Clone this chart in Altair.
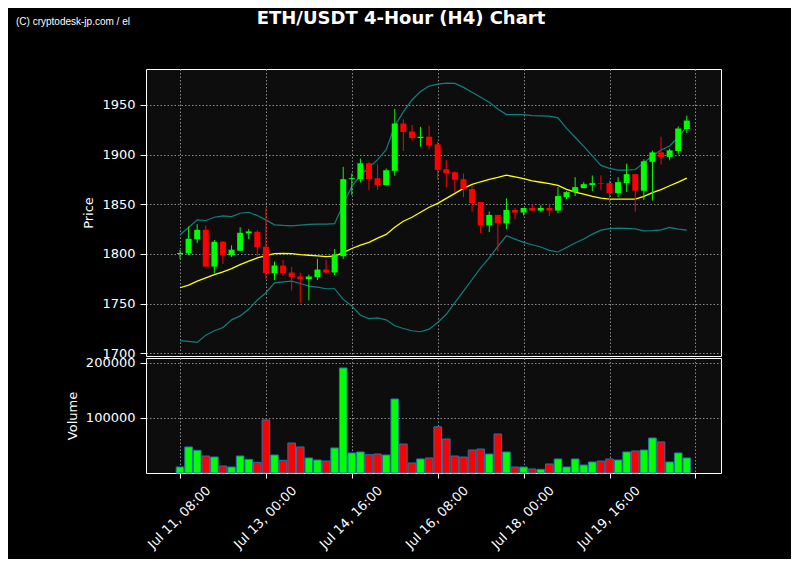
import altair as alt
import pandas as pd

title_text = "ETH/USDT 4-Hour (H4) Chart"
watermark_text = "(C) cryptodesk-jp.com / el"

tick_index = [0, 10, 20, 30, 40, 50, 60]
tick_labels = ["Jul 11, 08:00", "Jul 13, 00:00", "Jul 14, 16:00", "Jul 16, 08:00",
               "Jul 18, 00:00", "Jul 19, 16:00", ""]
price_ticks = [1700, 1750, 1800, 1850, 1900, 1950]
volume_ticks = [100000, 200000]

opens = [1800, 1800.7, 1814.7, 1824.3, 1787.3, 1812.3, 1798.7, 1803.3, 1820.7, 1822.3,
         1807.3, 1780.7, 1788.3, 1781.3, 1777.3, 1774.7, 1776.7, 1784.3, 1781.3, 1797.7,
         1875.3, 1875.3, 1891.3, 1876.3, 1869.3, 1883.7, 1931.3, 1923.3, 1916.7, 1918,
         1910.3, 1885.3, 1882.3, 1875.3, 1865.3, 1852.3, 1828.7, 1839.3, 1830.7, 1844.3,
         1841.7, 1846.3, 1843.7, 1846.3, 1843.7, 1857.3, 1862.3, 1866.3, 1869.3, 1871.3,
         1871.3, 1861.3, 1871.3, 1880.3, 1863.7, 1892.7, 1902.3, 1897.7, 1903.7, 1925.7]
closes = [1801, 1815.3, 1824.3, 1787.3, 1812.3, 1798.7, 1804.3, 1821.3, 1822.7, 1806.7,
          1780.7, 1788.3, 1780.7, 1776.7, 1774.7, 1777.3, 1784.3, 1781.3, 1799.3, 1875.3,
          1876.3, 1891.3, 1875.3, 1869.3, 1884.3, 1931.3, 1922.7, 1916.7, 1918, 1909.3,
          1884.7, 1881.3, 1874.7, 1865.3, 1851.3, 1828.7, 1839.3, 1831, 1844.3, 1841.7,
          1846.3, 1843.7, 1846.3, 1843.7, 1858.3, 1862.3, 1867.3, 1870.3, 1871.3, 1870.7,
          1861.3, 1872.3, 1880.3, 1863.7, 1893.3, 1902.3, 1897.7, 1904.3, 1926.3, 1934.3]
highs = [1804, 1827.7, 1830, 1828.7, 1814, 1813, 1808.7, 1827, 1825, 1824,
         1846, 1792.3, 1794, 1787, 1781, 1779.3, 1795, 1794.3, 1805, 1887.7,
         1881, 1896, 1892.7, 1890.3, 1886, 1946, 1935.7, 1930, 1928, 1929,
         1913, 1894.3, 1883, 1881, 1868.7, 1852.3, 1842.7, 1839.3, 1856, 1846.3,
         1846.3, 1850, 1849, 1850.7, 1867.3, 1863.3, 1877.3, 1872.3, 1879, 1879,
         1874, 1877.3, 1891, 1880.3, 1895.3, 1904, 1918, 1906, 1928.3, 1939.3]
lows = [1795, 1799, 1811, 1787, 1780.7, 1790, 1797, 1803, 1815, 1797.7,
        1775, 1773.7, 1777.7, 1763.3, 1751, 1753.3, 1773.7, 1780, 1778.7, 1795,
        1859.3, 1872, 1864, 1864.7, 1869.3, 1878.7, 1903.7, 1914, 1908, 1905,
        1874.7, 1867, 1862, 1857, 1842.7, 1821, 1822, 1802.7, 1825, 1835,
        1838.7, 1843.7, 1842, 1838.3, 1841, 1855.3, 1858.3, 1866.3, 1863.3, 1864.3,
        1851.7, 1857.3, 1862.3, 1842.7, 1854.3, 1853.7, 1890, 1894.3, 1900, 1921.7]
volumes = [10900, 47300, 41200, 30900, 29100, 12700, 10900, 30900, 24800, 19400,
           96400, 32700, 23000, 54500, 47300, 27300, 23600, 21800, 45500, 190900,
           36400, 38200, 33300, 34500, 32700, 134500, 52700, 18200, 25500, 27300,
           84000, 61800, 30900, 29100, 41800, 43600, 34500, 70900, 38200, 10900,
           10900, 7300, 6700, 16400, 25500, 10900, 25500, 14500, 20000, 21800,
           25500, 23600, 38200, 40000, 41800, 63600, 56400, 20000, 36400, 27300]
sma = [1766, 1768.7, 1772.7, 1776, 1779.3, 1782, 1785.3, 1789.3, 1792.7, 1796,
       1798.3, 1800.3, 1800.7, 1800.3, 1799.3, 1798.7, 1798, 1797.3, 1797.8, 1801.3,
       1805.5, 1809, 1811.7, 1816, 1819.7, 1827, 1833, 1837, 1842, 1847,
       1851, 1856, 1861, 1866, 1870, 1872.7, 1875, 1877, 1879.3, 1877.7,
       1875.8, 1873.5, 1872.2, 1870.8, 1869, 1865, 1862.3, 1860.2, 1858, 1856.3,
       1855.3, 1855.2, 1855.2, 1855.3, 1858, 1861.7, 1864.7, 1868.7, 1872.3, 1876.4]
upper_band = [1819.3, 1826.7, 1834.3, 1833.7, 1837, 1838.3, 1837.7, 1841, 1842, 1838.7,
              1834.3, 1829.3, 1828.7, 1828.3, 1829, 1829.7, 1830, 1830, 1830.5, 1850,
              1868, 1879, 1887, 1895, 1905, 1929, 1943, 1955, 1963.5, 1969,
              1971, 1972, 1971.7, 1967.7, 1962.7, 1957.7, 1952.7, 1946, 1940.3, 1940.3,
              1940.3, 1939.3, 1939, 1938.7, 1937, 1926.5, 1917.5, 1908.3, 1898.7, 1889.2,
              1886.2, 1884.5, 1884.5, 1885, 1891.7, 1898.8, 1904.7, 1908.7, 1917.5, 1928.3]
lower_band = [1712.7, 1712, 1711, 1718.3, 1722.7, 1726, 1733.7, 1737.7, 1744.3, 1753.7,
              1761, 1771, 1772, 1772.7, 1770.3, 1767.7, 1766.7, 1765, 1765, 1754.3,
              1747.7, 1738.3, 1735, 1735.7, 1733.7, 1727.7, 1725, 1722.7, 1721.7, 1724.3,
              1731, 1739.3, 1751, 1762.7, 1774.3, 1786, 1796, 1807.7, 1818.3, 1815,
              1811.7, 1809.3, 1807, 1803.7, 1802, 1806.5, 1811, 1815, 1820, 1824,
              1825.5, 1826, 1825.7, 1825.3, 1823.3, 1823.5, 1824.2, 1826.8, 1825, 1824]

UP = "#00ff00"
DOWN = "#ff0000"

n = len(opens)
df = pd.DataFrame({
    "i": list(range(n)),
    "open": opens, "close": closes, "high": highs, "low": lows,
    "volume": volumes, "sma": sma, "upper": upper_band, "lower": lower_band,
})
df["col"] = [UP if c >= o else DOWN for o, c in zip(opens, closes)]

xscale = alt.Scale(domain=[-3.96, 62.98], nice=False, zero=False, padding=0)
yscale = alt.Scale(domain=[1697.3, 1986.2], nice=False, zero=False)
label_expr = "[" + ",".join("'" + s + "'" for s in tick_labels) + "][round(datum.value / 10)]"

x_price = alt.X("i:Q", scale=xscale,
                axis=alt.Axis(values=tick_index, labels=False, ticks=False,
                              domain=False, grid=True, title=None, minExtent=0))
color = alt.Color("col:N", scale=None)

base = alt.Chart(df)
wicks = base.mark_rule(strokeWidth=1).encode(
    x=x_price,
    y=alt.Y("low:Q", scale=yscale,
            axis=alt.Axis(values=price_ticks, format="d", title="Price", grid=True,
                          tickSize=6, labelPadding=5)),
    y2="high:Q",
    color=color,
)
bodies = base.mark_bar(size=6).encode(x=x_price, y="open:Q", y2="close:Q", color=color)
band_up = base.mark_line(color="#0f8080", strokeWidth=1.2).encode(x=x_price, y="upper:Q")
band_lo = base.mark_line(color="#0f8080", strokeWidth=1.2).encode(x=x_price, y="lower:Q")
sma_line = base.mark_line(color="#ffff00", strokeWidth=1.3).encode(x=x_price, y="sma:Q")

title_mark = alt.Chart(pd.DataFrame({"t": [title_text]})).mark_text(
    font="DejaVu Sans", fontSize=18, fontWeight="bold", color="white",
    align="center", baseline="alphabetic",
).encode(x=alt.value(255), y=alt.value(-45), text="t:N")
wm_mark = alt.Chart(pd.DataFrame({"t": [watermark_text]})).mark_text(
    font="Liberation Sans", fontSize=10, color="white",
    align="left", baseline="alphabetic",
).encode(x=alt.value(-130), y=alt.value(-44), text="t:N")

price = alt.layer(band_up, band_lo, sma_line, wicks, bodies, title_mark, wm_mark).properties(
    width=575, height=287)

vol = alt.Chart(df).mark_bar(size=7.6, stroke="#1f77b4", strokeWidth=1).encode(
    x=alt.X("i:Q", scale=xscale,
            axis=alt.Axis(values=tick_index, labelExpr=label_expr, labelAngle=315,
                          labelAlign="right", labelBaseline="middle", labelOffset=28,
                          labelPadding=10, labelFlush=False, labelOverlap=False,
                          ticks=True, tickSize=5, grid=True, domain=False, title=None)),
    y=alt.Y("volume:Q", scale=alt.Scale(domain=[0, 209000], nice=False, zero=True),
            axis=alt.Axis(values=volume_ticks, format="d", title="Volume", grid=True,
                          tickSize=6, labelPadding=5)),
    color=color,
).properties(width=575, height=115)

chart = alt.vconcat(price, vol, spacing=2, bounds="flush").properties(
    padding={"left": 7, "top": 1, "right": 62, "bottom": 7}
).configure(background="black").configure_view(
    fill="#0d0d0d", stroke="white", strokeWidth=1
).configure_axis(
    labelColor="white", labelFont="DejaVu Sans", labelFontSize=13,
    titleColor="white", titleFont="DejaVu Sans", titleFontSize=13,
    titleFontWeight="normal", titlePadding=6,
    tickColor="white", tickWidth=1,
    gridColor="#8c8c8c", gridDash=[1.5, 2], gridWidth=1, domain=False,
)

chart.save("out.html", embed_options={"renderer": "svg", "actions": False})
